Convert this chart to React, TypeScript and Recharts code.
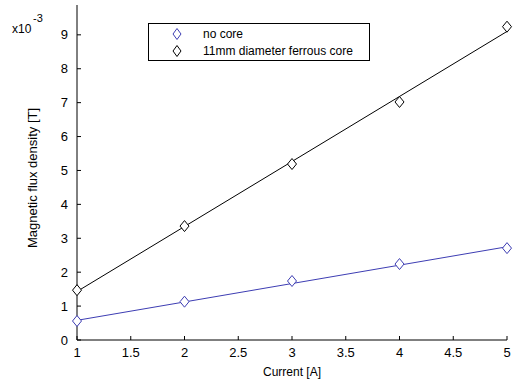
import { LineChart, Line, XAxis, YAxis } from "recharts"

const current = [1, 2, 3, 4, 5]
const noCore = [0.56, 1.13, 1.74, 2.24, 2.71]
const ferrousCore = [1.47, 3.36, 5.19, 7.02, 9.24]
// straight-line fits, endpoints read at x = 1 and x = 5
const noCoreFit = [0.58, null, null, null, 2.75]
const ferrousFit = [1.43, null, null, null, 9.1]

const xTicks = [1, 1.5, 2, 2.5, 3, 3.5, 4, 4.5, 5]
const yTicks = [0, 1, 2, 3, 4, 5, 6, 7, 8, 9]
const legendItems = ["no core", "11mm diameter ferrous core"]

const BLUE = "#3d3db3"
const FONT = "Liberation Sans, Arial, sans-serif"

const data = current.map((c, i) => ({
  current: c,
  noCore: noCore[i],
  core: ferrousCore[i],
  noCoreFit: noCoreFit[i],
  coreFit: ferrousFit[i],
}))

function Diamond(props: any) {
  const { cx, cy, stroke } = props
  if (cx == null || cy == null) return null
  return (
    <path
      d={`M${cx},${cy - 5.5} L${cx + 4.5},${cy} L${cx},${cy + 5.5} L${cx - 4.5},${cy} Z`}
      fill="white"
      stroke={stroke}
      strokeWidth={1}
    />
  )
}

function XTick({ x, y, payload }: any) {
  return (
    <g>
      <line x1={x} y1={y} x2={x} y2={y - 4} stroke="#000" />
      <text x={x} y={y + 17} textAnchor="middle" fontSize={13} fontFamily={FONT} fill="#000">
        {payload.value}
      </text>
    </g>
  )
}

function YTick({ x, y, payload }: any) {
  return (
    <g>
      <line x1={x} y1={y} x2={x + 4} y2={y} stroke="#000" />
      <text x={x - 9} y={y + 4.5} textAnchor="end" fontSize={13} fontFamily={FONT} fill="#000">
        {payload.value}
      </text>
    </g>
  )
}

function LegendBox() {
  const colors = [BLUE, "#000"]
  return (
    <div
      style={{
        position: "absolute",
        left: 148,
        top: 23,
        width: 222,
        height: 38,
        border: "1.5px solid #000",
        background: "#fff",
        fontFamily: FONT,
        fontSize: 12,
        boxSizing: "border-box",
        paddingTop: 1,
      }}
    >
      {legendItems.map((name, i) => (
        <div key={name} style={{ display: "flex", alignItems: "center", height: 17 }}>
          <svg width={54} height={14}>
            <path d="M28,1.5 L32,7 L28,12.5 L24,7 Z" fill="none" stroke={colors[i]} />
          </svg>
          <span style={{ color: "#000" }}>{name}</span>
        </div>
      ))}
    </div>
  )
}

export default function App() {
  return (
    <div style={{ position: "relative", width: 514, height: 381, background: "#fff" }}>
      <style>{"body{margin:0}"}</style>
      <LineChart width={514} height={381} data={data} margin={{ top: 5, right: 7, left: 0, bottom: 21 }}>
        <XAxis
          dataKey="current"
          type="number"
          domain={[1, 5]}
          ticks={xTicks}
          tick={<XTick />}
          tickLine={false}
          tickSize={0}
          tickMargin={0}
          height={20}
          stroke="#000"
        />
        <YAxis
          type="number"
          domain={[0, 9.88]}
          ticks={yTicks}
          tick={<YTick />}
          tickLine={false}
          tickSize={0}
          tickMargin={0}
          width={77}
          stroke="#000"
        />
        <Line dataKey="noCoreFit" stroke={BLUE} strokeWidth={1} dot={false} connectNulls isAnimationActive={false} />
        <Line dataKey="coreFit" stroke="#000" strokeWidth={1} dot={false} connectNulls isAnimationActive={false} />
        <Line dataKey="noCore" stroke="none" dot={<Diamond stroke={BLUE} />} activeDot={false} isAnimationActive={false} />
        <Line dataKey="core" stroke="none" dot={<Diamond stroke="#000" />} activeDot={false} isAnimationActive={false} />
      </LineChart>
      <LegendBox />
      <svg width={514} height={381} style={{ position: "absolute", left: 0, top: 0, pointerEvents: "none" }}>
        <text x={12} y={33} fontSize={12} fontFamily={FONT} fill="#000">x10</text>
        <text x={33} y={22} fontSize={11} fontFamily={FONT} fill="#000">-3</text>
        <text
          x={0}
          y={0}
          transform="translate(37,178) rotate(-90)"
          textAnchor="middle"
          fontSize={13}
          fontFamily={FONT}
          fill="#000"
        >
          Magnetic flux density [T]
        </text>
        <text x={292} y={376} textAnchor="middle" fontSize={12} fontFamily={FONT} fill="#000">
          Current [A]
        </text>
      </svg>
    </div>
  )
}
